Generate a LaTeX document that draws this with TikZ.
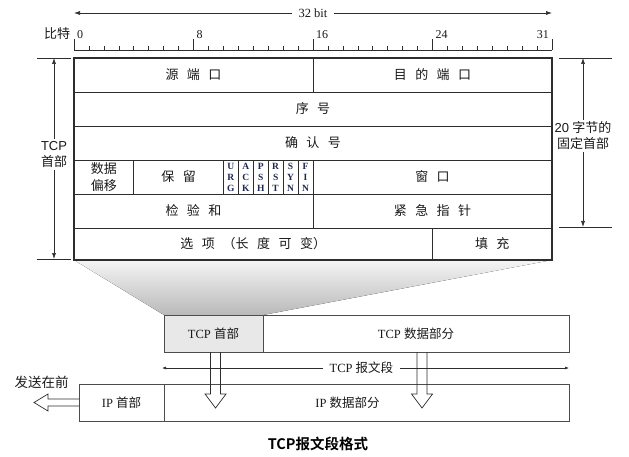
\documentclass[tikz,border=0pt]{standalone}
\usepackage{fontspec}
\usepackage{tikz}
\usetikzlibrary{arrows.meta, positioning, calc, backgrounds}
\setmainfont{Liberation Serif}
\newfontfamily\cjk{Noto Sans CJK SC}[BoldFont={Noto Sans CJK SC Bold}]
\newfontfamily\cjkwide{Noto Sans CJK SC}[LetterSpace=65]
\newfontfamily\arialfont{Liberation Sans}
\definecolor{linegray}{RGB}{45,45,45}
\definecolor{textdark}{RGB}{25,25,25}
\definecolor{boxgray}{RGB}{232,232,232}
\definecolor{flagnavy}{RGB}{30,40,80}

\begin{document}
\begin{tikzpicture}[x=1pt, y=-1pt,
        cell/.style={draw=linegray, line width=0.8pt, outer sep=0pt, inner sep=0pt, minimum height=34pt, text=textdark, font=\cjkwide\fontsize{13}{15}\selectfont},
        bits/.style={minimum width=#1*14.9375pt},
        flag/.style={cell, bits=1, align=center, text=flagnavy, font=\bfseries\fontsize{9.5}{11}\selectfont},
        frame/.style={draw=linegray, line width=1.8pt},
        extline/.style={line width=0.6pt, color=linegray},
        dimarrow/.style={{Latex[length=6pt,width=4pt]}-{Latex[length=6pt,width=4pt]}, line width=0.6pt, color=linegray},
        segarrow/.style={{Latex[length=4pt,width=3pt]}-{Latex[length=4pt,width=3pt]}, line width=0.6pt, color=linegray},
        pktbox/.style={draw=linegray!85, line width=0.8pt, outer sep=0pt, minimum height=37pt, anchor=north west, text=textdark, font=\fontsize{12.5}{15}\selectfont},
        hollowdown/.style={draw=linegray, line width=0.7pt, to path={let \p1=(\tikztostart), \p2=(\tikztotarget) in
            (\x1-5pt,\y1) -- (\x1-5pt,\y2+14pt) -- (\x1-10.5pt,\y2+14pt) -- (\x1,\y2) -- (\x1+10.5pt,\y2+14pt) -- (\x1+5pt,\y2+14pt) -- (\x1+5pt,\y1)}},
        hollowleft/.style={draw=linegray, line width=0.7pt, to path={let \p1=(\tikztostart), \p2=(\tikztotarget) in
            (\x1,\y1+3.5pt) -- (\x2+14pt,\y1+3.5pt) -- (\x2+14pt,\y1+8.5pt) -- (\x2,\y1) -- (\x2+14pt,\y1-8.5pt) -- (\x2+14pt,\y1-3.5pt) -- (\x1,\y1-3.5pt)}}
    ]
    \useasboundingbox (0,0) rectangle (629,457);

    % bit ruler
    \coordinate (widthl) at (74,13);
    \coordinate (widthr) at (552,13);
    \draw[dimarrow] (widthl) -- node[fill=white, inner xsep=7pt, text=textdark, font=\fontsize{12.5}{15}\selectfont] {32 bit} (widthr);
    \node[text=textdark, font=\cjk\fontsize{13}{15}\selectfont] (bitname) at (57,34) {比特};
    \draw[extline] (74,50) -- (552,50);
    \foreach \b in {1,...,31}
        \draw[extline] (74+\b*14.9375,50) -- ++(0,-4);
    \foreach \b in {0,8,16,24} {
        \draw[extline] (74+\b*14.9375,50) -- ++(0,-11);
        \node[anchor=west, inner sep=2pt, text=textdark, font=\fontsize{12}{14}\selectfont] (bit\b) at (75+\b*14.9375,35) {\b};
    }
    \draw[extline] (552,50) -- ++(0,-11);
    \node[anchor=east, inner sep=2pt, text=textdark, font=\fontsize{12}{14}\selectfont] (bit31) at (551,35) {31};

    % header fields
    \node[cell, bits=16, anchor=north west] (srcport) at (74,58) {源端口};
    \node[cell, bits=16, right=0pt of srcport] (dstport) {目的端口};
    \node[cell, bits=32, below=0pt of srcport.south west, anchor=north west] (seqno) {序号};
    \node[cell, bits=32, below=0pt of seqno.south west, anchor=north west] (ackno) {确认号};
    \node[cell, bits=4, below=0pt of ackno.south west, anchor=north west, align=center, font=\cjk\fontsize{13}{17}\selectfont] (offset) {数据\\偏移};
    \node[cell, bits=6, right=0pt of offset] (reserved) {保留};
    \node[flag, right=0pt of reserved] (urg) {U\\R\\G};
    \node[flag, right=0pt of urg] (ack) {A\\C\\K};
    \node[flag, right=0pt of ack] (psh) {P\\S\\H};
    \node[flag, right=0pt of psh] (rst) {R\\S\\T};
    \node[flag, right=0pt of rst] (syn) {S\\Y\\N};
    \node[flag, right=0pt of syn] (fin) {F\\I\\N};
    \node[cell, bits=16, right=0pt of fin] (window) {窗口};
    \node[cell, bits=16, below=0pt of offset.south west, anchor=north west] (checksum) {检验和};
    \node[cell, bits=16, right=0pt of checksum] (urgptr) {紧急指针};
    \node[cell, bits=24, minimum height=32pt, below=0pt of checksum.south west, anchor=north west] (options) {选项\hspace{0.6em}{\cjk （}长度可变{\cjk ）}};
    \node[cell, bits=8, minimum height=32pt, right=0pt of options] (padding) {填充};
    \draw[frame] (srcport.north west) rectangle (padding.south east);

    % header size marks
    \draw[extline] (37,58) -- (71,58);
    \draw[extline] (37,259) -- (71,259);
    \coordinate (hdrtop) at (54,58);
    \coordinate (hdrbot) at (54,259);
    \draw[dimarrow] (hdrtop) -- node[pos=0.48, fill=white, align=center, inner sep=2pt, text=textdark, font=\fontsize{13}{16}\selectfont] {{\arialfont TCP}\\{\cjk 首部}} (hdrbot);
    \draw[extline] (559,58) -- (612,58);
    \draw[extline] (559,227) -- (612,227);
    \coordinate (fixtop) at (583,58);
    \coordinate (fixbot) at (583,227);
    \draw[dimarrow] (fixtop) -- node[pos=0.46, fill=white, align=center, inner sep=2pt, text=textdark, font=\fontsize{13}{15.5}\selectfont] {{\arialfont 20} {\cjk 字节的}\\{\cjk 固定首部}} (fixbot);

    % segment and datagram
    \node[pktbox, fill=boxgray, minimum width=99pt] (tcphead) at (164,315) {TCP {\cjk 首部}};
    \node[pktbox, minimum width=306pt, right=0pt of tcphead] (tcpdata) {TCP {\cjk 数据部分}};
    \node[pktbox, minimum width=85pt] (iphead) at (79,384) {IP {\cjk 首部}};
    \node[pktbox, minimum width=405pt, right=0pt of iphead] (ipdata) {};
    \node[text=textdark, font=\fontsize{12.5}{15}\selectfont] (ipdatatext) at ($(ipdata.center)+(-19,0)$) {IP {\cjk 数据部分}};

    \begin{scope}[on background layer]
        \fill[top color=gray!8, bottom color=gray!55] (options.south west) -- (padding.south east) -- (tcphead.north east) -- (tcphead.north west) -- cycle;
    \end{scope}

    \coordinate (segl) at (162,368);
    \coordinate (segr) at (569,368);
    \draw[segarrow] (segl) -- node[pos=0.49, fill=white, inner xsep=7pt, inner ysep=1pt, text=textdark, font=\fontsize{12.5}{15}\selectfont] {TCP {\cjk 报文段}} (segr);

    \coordinate (drop1) at (216,408);
    \coordinate (drop2) at (422,408);
    \coordinate (sendtip) at (34,402.5);
    \draw[hollowdown] ([xshift=2pt]tcphead.south) to (drop1);
    \draw[hollowdown] (tcpdata.south -| drop2) to (drop2);
    \draw[hollowleft] (iphead.west) to (sendtip);
    \node[text=textdark, font=\cjk\fontsize{13.5}{15}\selectfont] (sendfirst) at (41.5,382.5) {发送在前};

    \node[font=\cjk\bfseries\fontsize{14.5}{17}\selectfont] (caption) at (318,444) {TCP报文段格式};
\end{tikzpicture}
\end{document}
